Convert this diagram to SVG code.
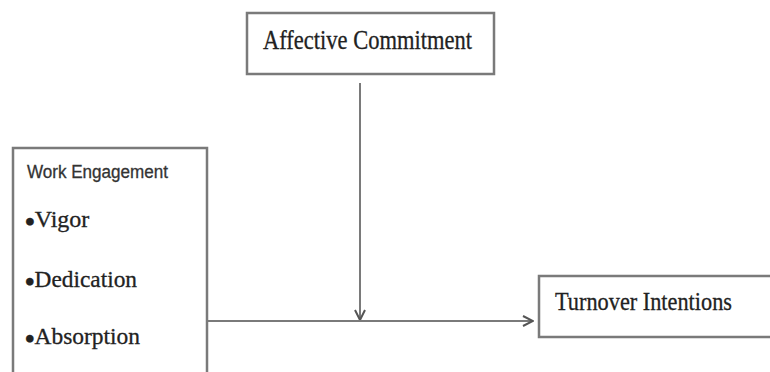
<svg xmlns="http://www.w3.org/2000/svg" width="770" height="372" viewBox="0 0 770 372">
  <defs>
    <style>
      .box { fill: #ffffff; stroke: #7a7a7a; stroke-width: 2.5; }
      .serif { font-family: "Liberation Serif", "Times New Roman", serif; fill: #222222; stroke: #222222; stroke-width: 0.3; }
      .sans { font-family: "Liberation Sans", Arial, sans-serif; fill: #333333; stroke: #333333; stroke-width: 0.3; }
      .dot { font-weight: bold; font-size: 28px; }
      .link { fill: none; stroke: #7a7a7a; stroke-width: 2; }
    </style>
    <marker id="arrow" viewBox="0 0 12 12" refX="11" refY="6" markerWidth="12" markerHeight="12" markerUnits="userSpaceOnUse" orient="auto">
      <path d="M1,1 L11,6 L1,11" fill="none" stroke="#555555" stroke-width="2"/>
    </marker>
  </defs>
  <rect width="770" height="372" fill="#ffffff"/>

  <g id="work-engagement">
    <rect class="box" x="13" y="148" width="194" height="240"/>
    <text class="sans" x="27" y="178" font-size="18" textLength="141" lengthAdjust="spacingAndGlyphs">Work Engagement</text>
    <text class="serif" x="25" y="227" font-size="24"><tspan class="dot" dy="4">•</tspan><tspan dy="-4">Vigor</tspan></text>
    <text class="serif" x="25" y="287" font-size="24" textLength="112" lengthAdjust="spacingAndGlyphs"><tspan class="dot" dy="4">•</tspan><tspan dy="-4">Dedication</tspan></text>
    <text class="serif" x="25" y="344" font-size="24" textLength="115" lengthAdjust="spacingAndGlyphs"><tspan class="dot" dy="4">•</tspan><tspan dy="-4">Absorption</tspan></text>
  </g>

  <g id="affective-commitment">
    <rect class="box" x="247" y="13" width="247" height="61"/>
    <text class="serif" x="263" y="49" font-size="27" textLength="209" lengthAdjust="spacingAndGlyphs">Affective Commitment</text>
  </g>

  <g id="turnover-intentions">
    <rect class="box" x="539" y="276" width="240" height="61"/>
    <text class="serif" x="555" y="310" font-size="26" textLength="177" lengthAdjust="spacingAndGlyphs">Turnover Intentions</text>
  </g>

  <g id="connectors">
    <line class="link" x1="360" y1="83" x2="360" y2="320" marker-end="url(#arrow)"/>
    <line class="link" x1="207" y1="321" x2="533" y2="321" marker-end="url(#arrow)"/>
  </g>
</svg>
